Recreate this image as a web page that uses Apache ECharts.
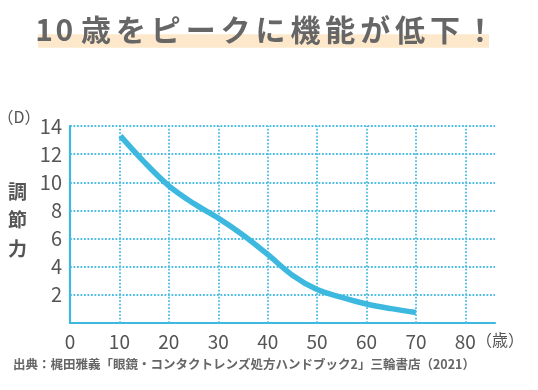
<!DOCTYPE html>
<html>
<head>
<meta charset="utf-8">
<script src="https://cdn.jsdelivr.net/npm/echarts@6/dist/echarts.min.js"></script>
<style>
html,body{margin:0;padding:0;background:#fff;}
#chart{width:538px;height:390px;}
</style>
</head>
<body>
<div id="chart"></div>
<script>
// ---- data ----
const ages = [10.2, 15, 20, 25, 30, 35, 40, 45, 50, 55, 60, 65, 70];
const accommodation = [13.3, 11.45, 9.75, 8.5, 7.45, 6.25, 4.87, 3.4, 2.38, 1.82, 1.35, 1.02, 0.75];
const xTicks = [10, 20, 30, 40, 50, 60, 70, 80];
const yTicks = [2, 4, 6, 8, 10, 12, 14];
const titleText = '10歳をピークに機能が低下！';
const yName = '調節力';
const yUnit = '（D）';
const xUnit = '（歳）';
const sourceText = '出典：梶田雅義「眼鏡・コンタクトレンズ処方ハンドブック2」三輪書店（2021）';

const FONT = '"Noto Sans CJK JP", "Noto Sans", sans-serif';
const BLUE = '#3DB9E0';
const GRID_BLUE = '#4CBDE3';
const TEXT = '#555555';

// title characters laid out with letter spacing
const titleChars = Array.from(titleText);
const titleGraphics = titleChars.map((ch, i) => {
  let cx;
  if (i === 0) cx = 44;
  else if (i === 1) cx = 64.3;
  else cx = 96 + (i - 2) * 34.9;
  return {
    type: 'text', x: cx, y: 29.5,
    style: { text: ch, font: 'bold 30px ' + FONT, fill: '#666666', align: 'center', verticalAlign: 'middle' },
    silent: true
  };
});

const chart = echarts.init(document.getElementById('chart'), null, { renderer: 'canvas' });
const data = ages.map((a, i) => [a, accommodation[i]]);

chart.setOption({
  animation: false,
  grid: { left: 70, right: 43, top: 126, bottom: 67, containLabel: false },
  xAxis: {
    type: 'value', min: 0, max: 86, interval: 10,
    axisLine: { show: true, lineStyle: { color: BLUE, width: 2.2 } },
    axisTick: { show: false },
    splitLine: { show: false },
    axisLabel: {
      margin: 9, color: TEXT, fontSize: 19, fontFamily: FONT,
      formatter: v => (v % 10 === 0 && v <= 80) ? String(v) : ''
    }
  },
  yAxis: {
    type: 'value', min: 0, max: 14, interval: 2,
    axisLine: { show: true, lineStyle: { color: BLUE, width: 2.2 } },
    axisTick: { show: false },
    splitLine: { show: true, lineStyle: { color: GRID_BLUE, width: 1.8, type: [1.8, 1.7] } },
    axisLabel: {
      margin: 8, color: TEXT, fontSize: 20, fontFamily: FONT,
      padding: [0, 0, 14, 0],
      formatter: v => v === 0 ? '' : String(v)
    }
  },
  series: [{
    type: 'line',
    data: data,
    smooth: 0.35,
    showSymbol: false,
    symbol: 'none',
    lineStyle: { color: BLUE, width: 5.5, cap: 'butt' },
    z: 5,
    markLine: {
      silent: true,
      symbol: ['none', 'none'],
      label: { show: false },
      lineStyle: { color: GRID_BLUE, width: 1.8, type: [1.8, 1.7] },
      emphasis: { disabled: true },
      z: 1,
      data: xTicks.map(t => ({ xAxis: t }))
    }
  }],
  graphic: [
    { type: 'rect', shape: { x: 38, y: 34.3, width: 451, height: 13.4 }, style: { fill: '#FDE8CB' }, silent: true, z: -1 },
    ...titleGraphics,
    { type: 'text', x: 19, y: 116.5,
      style: { text: yUnit, font: '16px ' + FONT, fill: TEXT, align: 'center', verticalAlign: 'middle' }, silent: true },
    { type: 'text', x: 17.5, y: 220,
      style: { text: yName.split('').join('\n'), font: 'bold 19px ' + FONT, lineHeight: 28.5, fill: TEXT, align: 'center', verticalAlign: 'middle' }, silent: true },
    { type: 'text', x: 500, y: 339.5,
      style: { text: xUnit, font: '16px ' + FONT, fill: TEXT, align: 'center', verticalAlign: 'middle' }, silent: true },
    { type: 'text', x: 13, y: 364.5,
      style: { text: sourceText, font: 'bold 12.5px ' + FONT, fill: '#666666', align: 'left', verticalAlign: 'middle' }, silent: true }
  ]
});
</script>
</body>
</html>
